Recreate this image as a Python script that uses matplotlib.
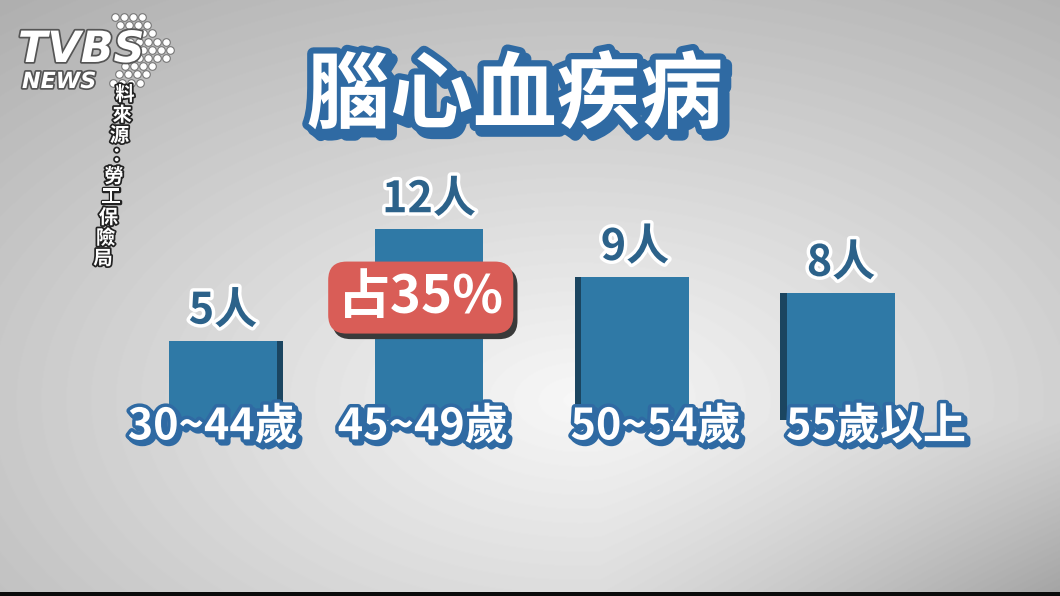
import matplotlib
matplotlib.use('Agg')
import matplotlib.pyplot as plt
import matplotlib.patheffects as pe
from matplotlib.transforms import offset_copy
import numpy as np

plt.rcParams['font.family'] = ['Noto Sans CJK TC', 'DejaVu Sans']

title = '腦心血疾病'
categories = ['30~44歲', '45~49歲', '50~54歲', '55歲以上']
counts = [5, 12, 9, 8]
value_labels = ['5人', '12人', '9人', '8人']
highlight = '占35%'
highlight_index = 1
source = '料來源：勞工保險局'

BAR = '#2f79a6'
BAR_DARK = '#1b4560'
LABEL_BLUE = '#2c628a'
OUTLINE = '#2f6aa3'
RED = '#d95d57'

W, H = 1060, 596
# pixel mapping: x_px = 223 + 206 * x, y_px = 420 - 15.9 * v
XPX0, XS = 223, 206
YPX0, YS = 420, 15.9
xlim = (-XPX0 / XS, (W - XPX0) / XS)
ylim = ((YPX0 - H) / YS, YPX0 / YS)

fig = plt.figure(figsize=(W / 100, H / 100), dpi=100)
ax = fig.add_axes([0, 0, 1, 1])
ax.set_xlim(*xlim)
ax.set_ylim(*ylim)
ax.axis('off')

# soft studio background
yy, xx = np.mgrid[0:H, 0:W]
d = np.sqrt(((xx - 580) / 700) ** 2 + ((yy - 400) / 400) ** 2)
bg = 0.97 - 0.22 * d
bg -= 0.14 * np.clip((xx - 600) / 460, 0, 1) * np.clip((yy - 420) / 170, 0, 1)
bg = np.clip(bg, 0, 1)
bg[-4:, :] = 0.05
ax.imshow(bg, cmap='gray', vmin=0, vmax=1, extent=(*xlim, *ylim),
          aspect='auto', origin='upper', zorder=0)

x = np.arange(len(categories))
shadow_shift = [0.03, 0.0, -0.03, -0.035]
ax.bar(x + np.array(shadow_shift), counts, width=0.52, color=BAR_DARK, zorder=1)
ax.bar(x, counts, width=0.52, color=BAR, zorder=2)

# value labels above bars
for i, (v, lab) in enumerate(zip(counts, value_labels)):
    ax.text(i, v + 0.5, lab, ha='center', va='bottom', fontsize=31,
            fontweight='heavy', color=LABEL_BLUE, zorder=5,
            path_effects=[pe.withStroke(linewidth=5, foreground='white')])

# category labels
label_shift = [-0.05, -0.03, 0.1, 0.17]
for i, lab in enumerate(categories):
    ax.text(i + label_shift[i], -0.4, lab, ha='center', va='center', fontsize=31,
            fontweight='heavy', color='white', zorder=6,
            path_effects=[pe.Stroke(linewidth=5, foreground=OUTLINE, offset=(2, -2)),
                          pe.Stroke(linewidth=5, foreground=OUTLINE),
                          pe.Normal()])

# highlight box
hx, hy = highlight_index - 0.04, 7.7
shadow_tr = offset_copy(ax.transData, fig=fig, x=3, y=-4, units='points')
ax.text(hx, hy, highlight, ha='center', va='center', fontsize=38,
        fontweight='heavy', color='#3a3a3a', transform=shadow_tr, zorder=6,
        bbox=dict(boxstyle='round,pad=0.18,rounding_size=0.35', fc='#3a3a3a', ec='none'))
ax.text(hx, hy, highlight, ha='center', va='center', fontsize=38,
        fontweight='heavy', color='white', zorder=7,
        bbox=dict(boxstyle='round,pad=0.18,rounding_size=0.35', fc=RED, ec='none'))

# title
fig.text(515 / W, 1 - 97 / H, title, ha='center', va='center', fontsize=60,
         fontweight='heavy', color='white', zorder=8,
         path_effects=[pe.Stroke(linewidth=9, foreground=OUTLINE, offset=(4, -4)),
                       pe.Stroke(linewidth=9, foreground=OUTLINE),
                       pe.Normal()])

# logo
logo_fx = [pe.withStroke(linewidth=2.5, foreground='#555555')]
fig.text(18 / W, 1 - 50 / H, 'TVBS', ha='left', va='center', fontsize=31,
         fontweight='bold', fontstyle='italic', color='white', family='DejaVu Sans',
         path_effects=logo_fx, zorder=9)
fig.text(22 / W, 1 - 82 / H, 'NEWS', ha='left', va='center', fontsize=16,
         fontweight='bold', fontstyle='italic', color='white', family='DejaVu Sans',
         path_effects=logo_fx, zorder=9)
row_starts = [115, 120, 125, 130, 134, 130, 125, 119, 113]
dots_x, dots_y = [], []
for r, sx in enumerate(row_starts):
    n = 5 if r in (3, 4, 5) else 4
    for k in range(n):
        dots_x.append((sx + 9 * k) / W)
        dots_y.append(1 - (17 + 8.2 * r) / H)
fig.add_artist(plt.Line2D(dots_x, dots_y, ls='none', marker='o', ms=5.5,
                          mfc='white', mec='#777777', mew=0.8,
                          transform=fig.transFigure, zorder=9))

# vertical source text
n = len(source)
for k, ch in enumerate(source):
    t = k / (n - 1)
    px = 125 - 22 * t
    py = 95 + 164 * t
    fig.text(px / W, 1 - py / H, ch, ha='center', va='center', fontsize=14,
             fontweight='bold', color='white', zorder=9,
             path_effects=[pe.withStroke(linewidth=2.5, foreground='#222222')])

fig.savefig('out.png', dpi=100)
